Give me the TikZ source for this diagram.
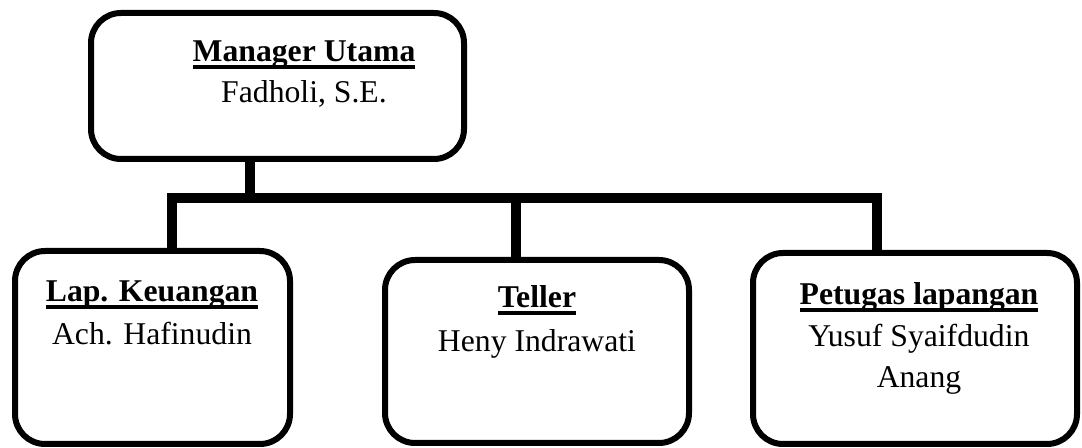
\documentclass[tikz,border=0pt]{standalone}
\usepackage{fontspec}
\setmainfont{Liberation Serif}
\newcommand\myul[1]{\setbox0\hbox{#1}\rlap{\rule[-3.4pt]{\wd0}{1.7pt}}\box0}
\begin{document}
\begin{tikzpicture}[x=0.5pt,y=-0.5pt,
  box/.style={draw, line width=3pt, rounded corners=15pt, inner sep=0pt, outer sep=0pt},
  conn/.style={line width=5.3pt, line join=miter, line cap=butt},
  txt/.style={anchor=base, inner sep=0pt, font=\fontsize{15.85}{20}\selectfont}]
\useasboundingbox (0,0) rectangle (1082,448);
% boxes
\node[box, minimum width=186.5pt, minimum height=73pt] (mgr) at (277.5,86) {};
\node[box, minimum width=137.5pt, minimum height=96.5pt] (lap) at (152.5,347.5) {};
\node[box, minimum width=152pt, minimum height=91.5pt] (tel) at (537,351.5) {};
\node[box, minimum width=162pt, minimum height=95.5pt] (pet) at (915,348.5) {};
% texts
\node[txt] (mgrT) at (304,62) {\myul{\textbf{Manager Utama}}};
\node[txt] (mgrN) at (304,103) {Fadholi, S.E.};
\node[txt] (lapT) at (152,302) {\myul{\textbf{Lap. Keuangan}}};
\node[txt] (lapN) at (152,345) {Ach. Hafinudin};
\node[txt] (telT) at (537,308) {\myul{\textbf{Teller}}};
\node[txt] (telN) at (537,352) {Heny Indrawati};
\node[txt] (petT) at (919,305) {\myul{\textbf{Petugas lapangan}}};
\node[txt] (petN1) at (919,347) {Yusuf Syaifdudin};
\node[txt] (petN2) at (919,388) {Anang};
% connectors
\coordinate (j0) at (250,198);
\coordinate (jL) at (172,198);
\coordinate (jM) at (516,198);
\coordinate (jR) at (877,198);
\draw[conn] (mgr.south -| j0) -- (j0);
\draw[conn] (lap.north -| jL) -- (jL) -- (jR) -- (pet.north -| jR);
\draw[conn] (jM) -- (tel.north -| jM);
\end{tikzpicture}
\end{document}
